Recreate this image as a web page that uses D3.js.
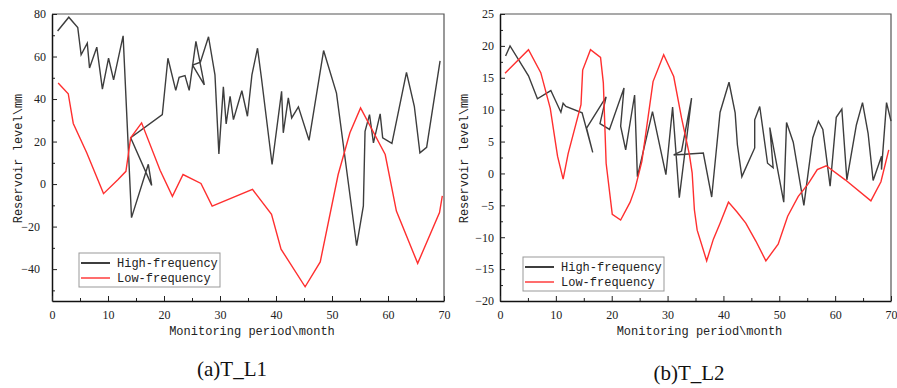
<!DOCTYPE html>
<html>
<head>
<meta charset="utf-8">
<script src="https://cdn.jsdelivr.net/npm/d3@7"></script>
<style>
  body { margin: 0; background: #fff; }
  .tick text { font-family: "Liberation Serif", serif; font-size: 12px; fill: #222; }
  .title { font-family: "Liberation Mono", monospace; font-size: 12px; fill: #222; }
  .caption { font-family: "Liberation Serif", serif; font-size: 21px; fill: #111; }
</style>
</head>
<body>
<div id="chart"></div>
<script>
// T_L1 high-frequency component (x goes back and forth in places)
const l1HighMonth = [1, 3, 4.6, 5.2, 6.3, 6.7, 8, 9, 10.1, 11, 12.7, 14.2, 17.2, 17.8, 14.05, 19.7,
  20.7, 22.1, 22.7, 23.75, 24.5, 25.7, 27.2, 25.1, 26.5, 27.95, 29.1, 29.8, 30.6, 31.1, 31.8, 32.4,
  33.9, 34.9, 35.7, 36.7, 37.4, 39.3, 41, 41.3, 42.2, 42.8, 44, 45.9, 48.5, 50.8, 54.4, 55.6, 55.9,
  56.7, 57.4, 58.6, 59.05, 60.7, 63.3, 64.7, 65.7, 66.9, 69.3];
const l1HighLevel = [72, 78.5, 73.6, 60.8, 66.3, 54.6, 64.4, 44.7, 59.2, 49, 69.7, -15.8, 9.3, -0.6, 21.8, 32.7,
  59.2, 44.1, 50.2, 51, 44.1, 67.1, 46.7, 56, 57.3, 69.3, 51.4, 14.2, 45.7, 28.3, 41.3, 30.3,
  43.9, 31.9, 51.4, 63.9, 49.9, 9.2, 43.6, 24.1, 40.5, 31.1, 36.3, 20.6, 62.8, 42.8, -29, -10.3, 24.8,
  32.7, 19.4, 33, 21.7, 19.1, 52.5, 36.6, 14.7, 17.3, 58];

// T_L1 low-frequency component
const l1LowMonth = [1.1, 2.9, 3.8, 6.2, 9.2, 11.8, 13.2, 14.05, 16, 19.3, 21.5, 23.4, 26.6, 28.6,
  35.8, 39.2, 40.9, 45.2, 47.9, 51.1, 53.2, 55.1, 59.5, 61.5, 65.3, 69.2, 69.7];
const l1LowLevel = [47.5, 42.5, 28.5, 14.7, -4.5, 2.2, 6, 21.8, 28.8, 6.5, -5.8, 4.5, 0.3, -10.4,
  -2.5, -14.2, -30.6, -48.3, -36.6, 4.5, 24.1, 35.8, 13.9, -12.7, -37.3, -13.4, -5.6];

// T_L2 high-frequency component
const l2HighMonth = [1, 1.8, 5.1, 6.7, 9.1, 10.9, 11.3, 11.8, 14.7, 16.6, 15.5, 19, 17.9, 19.6,
  22.2, 21.6, 22.5, 24.1, 24.6, 27.3, 29.7, 30.9, 32.1, 34.3, 32.5, 31.1, 36.4, 37.9, 39.4,
  41, 42.1, 42.5, 43.3, 45.6, 45.6, 46.5, 47.9, 48.9, 48.3, 50.8,
  51.3, 52.5, 54.4, 56, 57, 57.8, 59.1, 60.2, 61.2, 62.1, 63.8, 64.9, 65.9, 66.8, 68.3, 68.3, 69.2, 70];
const l2HighLevel = [18.4, 20, 15.3, 11.7, 13, 9.6, 11, 10.5, 9.5, 3.3, 7.1, 12, 7.8, 6.9,
  13.4, 7.4, 3.7, 12.3, -0.5, 9.7, -0.2, 10.4, -3.8, 11.8, 3.5, 2.9, 3.2, -3.7, 9.6,
  14.3, 9.5, 4.5, -0.5, 4, 8.4, 10.5, 1.6, 0.9, 7.2, -4.5,
  8, 4.9, -5, 5.6, 8.2, 6.9, -2, 8.8, 10.1, -1, 7.6, 11.1, 6.3, -1.1, 2.7, 0.6, 11.1, 8.2];

// T_L2 low-frequency component
const l2LowMonth = [0.9, 5.1, 7.3, 9, 10.3, 11.3, 12.2, 14.5, 14.8, 16.2, 18, 18.5, 19, 20.1, 21.6,
  23.3, 24.2, 25.4, 27.4, 29.3, 31.1, 32.5, 33.9, 34.4, 34.8, 35.3, 37, 38.2, 39.4, 40.9, 42.4,
  44, 45.8, 47.6, 49.8, 51.5, 53.4, 55.2, 56.8, 58.4, 61.8, 66.4, 68.2, 69.6];
const l2LowLevel = [15.7, 19.4, 15.8, 10.2, 2.7, -0.9, 3.1, 10.8, 16.2, 19.4, 18.2, 14.2, 1.6, -6.4, -7.3,
  -4.5, -2.3, 1.9, 14.4, 18.6, 15.2, 8.7, 3, 0.1, -5.7, -8.9, -13.7, -10.3, -7.8, -4.5, -6,
  -7.8, -10.6, -13.7, -11.1, -6.7, -3.6, -1.6, 0.6, 1.2, -1, -4.3, -1.3, 3.7];

const seriesNames = ['High-frequency', 'Low-frequency'];
const seriesColors = ['#3d3d3d', '#ff2f2f'];

const panels = [
  {
    left: 52, top: 14, width: 392, height: 287,
    yDomain: [-55, 80], yMajor: d3.range(-40, 81, 20), yMinor: d3.range(-50, 71, 20),
    high: d3.zip(l1HighMonth, l1HighLevel), low: d3.zip(l1LowMonth, l1LowLevel),
    legend: [27, 239], caption: '(a)T_L1', captionPos: [180, 376], negShift: 6, titleOffset: -30,
  },
  {
    left: 500, top: 14, width: 391, height: 287,
    yDomain: [-20, 25], yMajor: d3.range(-20, 26, 5), yMinor: d3.range(-17.5, 25, 5),
    high: d3.zip(l2HighMonth, l2HighLevel), low: d3.zip(l2LowMonth, l2LowLevel),
    legend: [23, 243], caption: '(b)T_L2', captionPos: [189, 380], negShift: 0, titleOffset: -32,
  },
];

const svg = d3.select('#chart').append('svg')
  .attr('width', 897)
  .attr('height', 388);

panels.forEach((p) => {
  const g = svg.append('g').attr('transform', `translate(${p.left},${p.top})`);

  const x = d3.scaleLinear().domain([0, 70]).range([0, p.width]);
  const y = d3.scaleLinear().domain(p.yDomain).range([p.height, 0]);

  // frame (top and right)
  g.append('path')
    .attr('d', `M0,0H${p.width}V${p.height}`)
    .attr('fill', 'none')
    .attr('stroke', '#555')
    .attr('stroke-width', 1.2);

  // minor ticks
  g.append('g')
    .call(d3.axisLeft(y).tickValues(p.yMinor).tickSize(-3).tickFormat(''))
    .call((a) => a.select('.domain').remove());
  g.append('g')
    .attr('transform', `translate(0,${p.height})`)
    .call(d3.axisBottom(x).tickValues(d3.range(5, 70, 10)).tickSize(-3).tickFormat(''))
    .call((a) => a.select('.domain').remove());

  // major axes
  const yAxis = g.append('g')
    .call(d3.axisLeft(y).tickValues(p.yMajor).tickSize(-5).tickSizeOuter(0).tickPadding(6));
  yAxis.selectAll('.tick text')
    .filter((d) => d < 0)
    .attr('x', -6 - p.negShift);
  g.append('g')
    .attr('transform', `translate(0,${p.height})`)
    .call(d3.axisBottom(x).tickValues(d3.range(0, 71, 10)).tickSize(-5).tickSizeOuter(0).tickPadding(9));

  g.selectAll('.domain').attr('stroke', '#111').attr('stroke-width', 1.5);
  g.selectAll('.tick line').attr('stroke', '#222').attr('stroke-width', 1);

  // lines
  const line = d3.line().x((d) => x(d[0])).y((d) => y(d[1]));
  [p.high, p.low].forEach((data, i) => {
    g.append('path')
      .datum(data)
      .attr('fill', 'none')
      .attr('stroke', seriesColors[i])
      .attr('stroke-width', 1.4)
      .attr('stroke-linejoin', 'miter')
      .attr('d', line);
  });

  // axis titles
  g.append('text')
    .attr('class', 'title')
    .attr('x', p.width / 2 + 4)
    .attr('y', p.height + 34)
    .attr('text-anchor', 'middle')
    .text('Monitoring period\\month');
  g.append('text')
    .attr('class', 'title')
    .attr('transform', `translate(${p.titleOffset},${p.height / 2 + 1}) rotate(-90)`)
    .attr('text-anchor', 'middle')
    .text('Reservoir level\\mm');

  // legend
  const lg = g.append('g').attr('transform', `translate(${p.legend[0]},${p.legend[1]})`);
  lg.append('rect')
    .attr('width', 141)
    .attr('height', 34)
    .attr('fill', '#fff')
    .attr('stroke', '#999')
    .attr('stroke-width', 1);
  seriesNames.forEach((name, i) => {
    const yy = 10 + i * 15;
    lg.append('line')
      .attr('x1', 2).attr('x2', 31)
      .attr('y1', yy).attr('y2', yy)
      .attr('stroke', seriesColors[i])
      .attr('stroke-width', i === 0 ? 2 : 1.4);
    lg.append('text')
      .attr('class', 'title')
      .attr('x', 38)
      .attr('y', yy + 4)
      .text(name);
  });

  // caption
  svg.append('text')
    .attr('class', 'caption')
    .attr('x', p.left + p.captionPos[0])
    .attr('y', p.captionPos[1])
    .attr('text-anchor', 'middle')
    .text(p.caption);
});
</script>
</body>
</html>
